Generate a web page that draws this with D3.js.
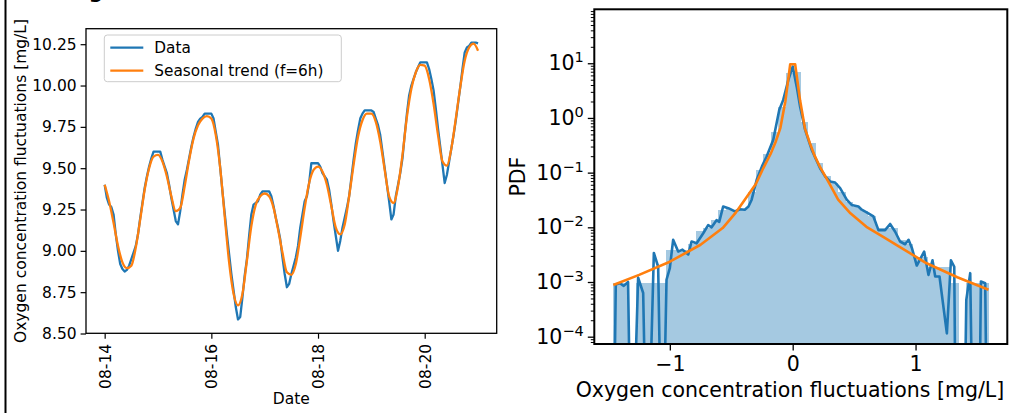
<!DOCTYPE html>
<html>
<head>
<meta charset="utf-8">
<style>
  body { margin: 0; background: white; }
  svg { display: block; font-family: "DejaVu Sans", sans-serif; }
</style>
<script src="https://d3js.org/d3.v7.min.js"></script>
</head>
<body>
<script>

    // ---- left panel: time series (hourly data from 08-14 00:00) ----
    var startDay = "08-14";
    var dateTicks = ["08-14", "08-16", "08-18", "08-20"];
    var oxyTicks = [8.50, 8.75, 9.00, 9.25, 9.50, 9.75, 10.00, 10.25];

    var dataValues = [
      9.40, 9.32, 9.28, 9.265, 9.22, 9.10, 9.00, 8.92, 8.89, 8.875, 8.885, 8.91, 8.95, 8.99, 9.03, 9.10, 9.20, 9.29, 9.38, 9.45, 9.51, 9.56, 9.60, 9.60,
      9.60, 9.60, 9.55, 9.51, 9.47, 9.40, 9.32, 9.25, 9.18, 9.16, 9.24, 9.34, 9.43, 9.49, 9.56, 9.63, 9.69, 9.74, 9.78, 9.80, 9.81, 9.83, 9.83, 9.83,
      9.83, 9.80, 9.72, 9.64, 9.50, 9.36, 9.23, 9.10, 8.98, 8.86, 8.76, 8.66, 8.585, 8.60, 8.72, 8.85, 8.95, 9.09, 9.22, 9.28, 9.29, 9.30, 9.34, 9.36,
      9.36, 9.36, 9.36, 9.33, 9.27, 9.20, 9.14, 9.07, 8.96, 8.86, 8.78, 8.80, 8.86, 8.91, 8.96, 9.03, 9.14, 9.22, 9.30, 9.33, 9.41, 9.53, 9.53, 9.53,
      9.53, 9.51, 9.47, 9.45, 9.43, 9.37, 9.28, 9.18, 9.09, 9.00, 9.06, 9.14, 9.20, 9.26, 9.33, 9.44, 9.55, 9.65, 9.73, 9.80, 9.83, 9.85, 9.85, 9.85,
      9.85, 9.84, 9.80, 9.76, 9.70, 9.60, 9.50, 9.40, 9.30, 9.19, 9.22, 9.33, 9.40, 9.47, 9.56, 9.70, 9.83, 9.94, 10.00, 10.04, 10.08, 10.11, 10.14, 10.14,
      10.14, 10.14, 10.10, 10.04, 9.97, 9.86, 9.74, 9.63, 9.52, 9.41, 9.46, 9.54, 9.62, 9.70, 9.79, 9.89, 9.99, 10.10, 10.20, 10.23, 10.24, 10.26, 10.26, 10.26,
      10.255
    ];

    // seasonal trend, every 2 hours
    var trendValues = [
      9.40, 9.30, 9.17, 9.03, 8.93, 8.895, 8.91, 9.02, 9.19, 9.37, 9.50, 9.57,
      9.58, 9.54, 9.45, 9.33, 9.24, 9.26, 9.39, 9.55, 9.68, 9.76, 9.80, 9.815,
      9.80, 9.70, 9.50, 9.21, 8.93, 8.74, 8.67, 8.74, 8.94, 9.15, 9.28, 9.33,
      9.347, 9.33, 9.26, 9.13, 8.99, 8.87, 8.855, 8.92, 9.08, 9.26, 9.41, 9.49,
      9.51, 9.48, 9.40, 9.27, 9.14, 9.10, 9.16, 9.33, 9.52, 9.69, 9.79, 9.83,
      9.83, 9.78, 9.66, 9.49, 9.33, 9.29, 9.39, 9.58, 9.81, 9.98, 10.08, 10.125,
      10.12, 10.04, 9.89, 9.70, 9.54, 9.515, 9.62, 9.80, 9.99, 10.15, 10.23, 10.253,
      10.21
    ];

    // ---- right panel: PDF of fluctuations ----
    var histLo = -1.46, histHi = 1.594;
    var histDensity = [
      9.7e-4, 9.7e-4, 0, 9.7e-4, 9.7e-4, 9.7e-4, 9.7e-4, 3.9e-3, 3.9e-3, 3.9e-3,
      4.9e-3, 8.7e-3, 9.7e-3, 0.0136, 0.0204, 0.0214, 0.0204, 0.0214, 0.045, 0.11,
      0.22, 0.55, 1.6, 6.5, 7.0, 0.85, 0.35, 0.15, 0.085, 0.065,
      0.045, 0.029, 0.024, 0.020, 0.016, 0.0097, 0.0097, 0.0097, 0.0058, 0.0049,
      0.0029, 0.0029, 0.0019, 0.0019, 0.0019, 0.00097, 0, 0.00097, 0.00097, 0.00097
    ];

    var pdfX = [-1.462, -1.44, -1.407, -1.375, -1.34, -1.312, -1.258, -1.217, -1.184, -1.13,
      -1.095, -1.062, -1.027, -1.0, -0.973, -0.932, -0.897, -0.85, -0.823, -0.782,
      -0.728, -0.688, -0.66, -0.62, -0.598, -0.566, -0.524, -0.47, -0.43, -0.39,
      -0.36, -0.334, -0.293, -0.25, -0.212, -0.158, -0.109, -0.077, -0.036, 0,
      0.033, 0.06, 0.1, 0.155, 0.223, 0.265, 0.304, 0.345, 0.386, 0.44,
      0.48, 0.535, 0.562, 0.616, 0.657, 0.698, 0.752, 0.793, 0.834, 0.874,
      0.915, 0.943, 0.97, 1.01, 1.07, 1.105, 1.138, 1.16, 1.195, 1.255,
      1.288, 1.315, 1.331, 1.39, 1.413, 1.445, 1.472, 1.513, 1.532, 1.567, 1.586];
    var pdfY = [0, 9.0e-4, 9.5e-4, 8.5e-4, 1.0e-3, 0, 1.2e-3, 6.3e-4, 0, 3.4e-3,
      1.9e-3, 0, 1.1e-3, 1.8e-3, 5.9e-3, 3.6e-3, 3.9e-3, 3.2e-3, 5.5e-3, 5.1e-3,
      7.8e-3, 0.011, 0.010, 0.0135, 0.0126, 0.024, 0.0224, 0.0195, 0.0214, 0.021,
      0.024, 0.032, 0.074, 0.13, 0.197, 0.40, 1.41, 2.14, 4.9, 8.7,
      3.7, 1.62, 0.62, 0.26, 0.12, 0.085, 0.069, 0.066, 0.052, 0.032,
      0.0257, 0.024, 0.021, 0.018, 0.0158, 0.0089, 0.0089, 0.0115, 0.0083, 0.0055,
      0.0049, 0.0059, 0.0042, 0.0020, 0.0036, 0.00135, 0.0025, 0.00126, 0.00126, 1.15e-4,
      0.0025, 0.0019, 0, 0, 4.7e-4, 0.00145, 0, 0, 0.00102, 0.00095, 0];

    var fitX = [-1.46, -1.25, -1.0, -0.75, -0.57, -0.46, -0.39, -0.30, -0.24, -0.18, -0.14, -0.10, -0.06, -0.02,
      0.02, 0.06, 0.10, 0.14, 0.18, 0.22, 0.30, 0.37, 0.47, 0.60, 0.74, 0.87, 1.09, 1.34, 1.594];
    var fitY = [8.8e-4, 1.35e-3, 2.35e-3, 4.8e-3, 9.7e-3, 0.019, 0.032, 0.062, 0.12, 0.22, 0.36, 0.66, 2.0, 9.6,
      9.6, 2.1, 0.64, 0.345, 0.2, 0.13, 0.062, 0.032, 0.018, 0.0102, 0.0066, 0.0044, 0.0022, 0.00122, 7.2e-4];
    var pdfTicksX = [-1, 0, 1];
    var pdfTicksY = [1e-4, 1e-3, 1e-2, 1e-1, 1e0, 1e1];

    var width = 1009, height = 413;
    var blue = "#1f77b4", orange = "#ff7f0e";

    var svg = d3.select("body").append("svg")
        .attr("width", width)
        .attr("height", height);

    var defs = svg.append("defs");

    // frame line of the left figure
    svg.append("rect").attr("x", 4.5).attr("y", 0).attr("width", 2).attr("height", height).attr("fill", "black");
    // bottom of a cut-off title
    svg.append("text").attr("x", 96).attr("y", -2).attr("text-anchor", "middle")
        .attr("font-size", 20).attr("font-weight", "bold").text("g");

    // ================= left panel =================
    var L = {x0: 86, x1: 496.7, y0: 28.7, y1: 333.3};
    var parseDay = d3.utcParse("%m-%d");
    var t0 = parseDay(startDay);
    var hour = 3600 * 1000;

    var dataSeries = dataValues.map(function(v, i) { return [new Date(+t0 + i * hour), v]; });
    var trendSeries = trendValues.map(function(v, i) { return [new Date(+t0 + i * 2 * hour), v]; });

    var tExt = d3.extent(dataSeries, function(d) { return +d[0]; });
    var tPad = (tExt[1] - tExt[0]) * 0.05;
    var x = d3.scaleUtc().domain([new Date(tExt[0] - tPad), new Date(tExt[1] + tPad)]).range([L.x0, L.x1]);

    var vExt = d3.extent(dataValues.concat(trendValues));
    var vPad = (vExt[1] - vExt[0]) * 0.05;
    var y = d3.scaleLinear().domain([vExt[0] - vPad, vExt[1] + vPad]).range([L.y1, L.y0]);

    defs.append("clipPath").attr("id", "clipL").append("rect")
        .attr("x", L.x0).attr("y", L.y0).attr("width", L.x1 - L.x0).attr("height", L.y1 - L.y0);

    var lineL = d3.line().x(function(d) { return x(d[0]); }).y(function(d) { return y(d[1]); });
    var gL = svg.append("g").attr("clip-path", "url(#clipL)");
    gL.append("path").attr("d", lineL(dataSeries))
        .attr("fill", "none").attr("stroke", blue).attr("stroke-width", 2.3).attr("stroke-linejoin", "round");
    gL.append("path").attr("d", lineL.curve(d3.curveMonotoneX)(trendSeries))
        .attr("fill", "none").attr("stroke", orange).attr("stroke-width", 2.3).attr("stroke-linejoin", "round");

    var axYL = svg.append("g").attr("transform", "translate(" + L.x0 + ",0)")
        .call(d3.axisLeft(y).tickValues(oxyTicks).tickFormat(d3.format(".2f")).tickSize(5.4).tickPadding(4));
    var axXL = svg.append("g").attr("transform", "translate(0," + L.y1 + ")")
        .call(d3.axisBottom(x).tickValues(dateTicks.map(parseDay)).tickFormat(d3.utcFormat("%m-%d")).tickSize(5.4).tickPadding(5));
    axXL.selectAll(".tick text")
        .attr("transform", "rotate(-90)")
        .attr("text-anchor", "end")
        .attr("x", -10.6).attr("y", 0).attr("dy", "0.35em");

    [axYL, axXL].forEach(function(g) {
      g.attr("font-size", 15.5).attr("font-family", "DejaVu Sans");
      g.select(".domain").remove();
      g.selectAll("line").attr("stroke", "black").attr("stroke-width", 1.2);
      g.selectAll("text").attr("fill", "black");
    });

    svg.append("rect").attr("x", L.x0).attr("y", L.y0).attr("width", L.x1 - L.x0).attr("height", L.y1 - L.y0)
        .attr("fill", "none").attr("stroke", "black").attr("stroke-width", 1.3);

    svg.append("text").attr("x", (L.x0 + L.x1) / 2).attr("y", 404).attr("text-anchor", "middle")
        .attr("font-size", 15.5).text("Date");
    svg.append("text").attr("transform", "translate(26," + ((L.y0 + L.y1) / 2) + ") rotate(-90)")
        .attr("text-anchor", "middle").attr("font-size", 15.5)
        .text("Oxygen concentration fluctuations [mg/L]");

    // legend
    var leg = svg.append("g").attr("transform", "translate(104.3,35)");
    leg.append("rect").attr("width", 237).attr("height", 46.7).attr("rx", 3)
        .attr("fill", "white").attr("fill-opacity", 0.8).attr("stroke", "#cccccc").attr("stroke-width", 1);
    [["Data", blue], ["Seasonal trend (f=6h)", orange]].forEach(function(e, i) {
      var yy = 12.7 + i * 23;
      leg.append("line").attr("x1", 6).attr("x2", 39).attr("y1", yy).attr("y2", yy)
          .attr("stroke", e[1]).attr("stroke-width", 2.3);
      leg.append("text").attr("x", 50).attr("y", yy).attr("dy", "0.36em").attr("font-size", 15.3).text(e[0]);
    });

    // ================= right panel =================
    var R = {x0: 594.3, x1: 1007.3, y0: 9.3, y1: 344};
    var xExt = d3.extent(pdfX.concat(fitX));
    var xPad = (xExt[1] - xExt[0]) * 0.05;
    var xr = d3.scaleLinear().domain([xExt[0] - xPad, xExt[1] + xPad]).range([R.x0, R.x1]);
    var yr = d3.scaleLog().domain([7.35e-5, 97]).range([R.y1, R.y0]);

    defs.append("clipPath").attr("id", "clipR").append("rect")
        .attr("x", R.x0).attr("y", R.y0).attr("width", R.x1 - R.x0).attr("height", R.y1 - R.y0);
    var gR = svg.append("g").attr("clip-path", "url(#clipR)");

    // bars drawn as one path so neighbours do not leave seams
    var binW = (histHi - histLo) / histDensity.length;
    var bars = histDensity.map(function(v, i) { return {lo: histLo + i * binW, hi: histLo + (i + 1) * binW, v: v}; })
        .filter(function(d) { return d.v > 0; });
    var barPath = d3.path();
    bars.forEach(function(d) {
      barPath.rect(xr(d.lo), yr(d.v), xr(d.hi) - xr(d.lo), R.y1 - yr(d.v));
    });
    gR.append("path").attr("d", barPath.toString())
        .attr("fill", "#a5c9e1").attr("shape-rendering", "crispEdges");

    // zeros drop below the axis like matplotlib's clipped log
    var lineR = d3.line()
        .x(function(d) { return xr(d[0]); })
        .y(function(d) { return yr(d[1] > 0 ? d[1] : 1e-7); });
    gR.append("path").attr("d", lineR(d3.zip(pdfX, pdfY)))
        .attr("fill", "none").attr("stroke", blue).attr("stroke-width", 2.6).attr("stroke-linejoin", "round");
    gR.append("path").attr("d", lineR(d3.zip(fitX, fitY)))
        .attr("fill", "none").attr("stroke", orange).attr("stroke-width", 2.6).attr("stroke-linejoin", "round");

    var minor = yr.ticks().filter(function(d) { return pdfTicksY.indexOf(d) < 0; });
    var axMinor = svg.append("g").attr("transform", "translate(" + R.x0 + ",0)")
        .call(d3.axisLeft(yr).tickValues(minor).tickFormat("").tickSize(3.5));
    var axYR = svg.append("g").attr("transform", "translate(" + R.x0 + ",0)")
        .call(d3.axisLeft(yr).tickValues(pdfTicksY).tickFormat("").tickSize(6.5).tickPadding(4));
    axYR.selectAll(".tick text").each(function(d) {
      var t = d3.select(this);
      var e = Math.round(Math.log10(d));
      t.attr("dy", "0.32em");
      t.append("tspan").text("10");
      t.append("tspan").attr("dy", "-0.55em").attr("font-size", 14.5).text(String(e).replace("-", "\u2212"));
    });
    var axXR = svg.append("g").attr("transform", "translate(0," + R.y1 + ")")
        .call(d3.axisBottom(xr).tickValues(pdfTicksX).tickFormat(d3.format("d")).tickSize(6.5).tickPadding(6));

    [axMinor, axYR, axXR].forEach(function(g) {
      g.attr("font-size", 20.5).attr("font-family", "DejaVu Sans");
      g.select(".domain").remove();
      g.selectAll("line").attr("stroke", "black").attr("stroke-width", 1.3);
      g.selectAll("text").attr("fill", "black");
    });
    axMinor.selectAll("line").attr("stroke-width", 1);

    svg.append("rect").attr("x", R.x0).attr("y", R.y0).attr("width", R.x1 - R.x0).attr("height", R.y1 - R.y0)
        .attr("fill", "none").attr("stroke", "black").attr("stroke-width", 2);

    svg.append("text").attr("x", 790).attr("y", 397).attr("text-anchor", "middle")
        .attr("font-size", 20.5).text("Oxygen concentration fluctuations [mg/L]");
    svg.append("text").attr("transform", "translate(525," + ((R.y0 + R.y1) / 2) + ") rotate(-90)")
        .attr("text-anchor", "middle").attr("font-size", 20.5).text("PDF");

</script>
</body>
</html>
